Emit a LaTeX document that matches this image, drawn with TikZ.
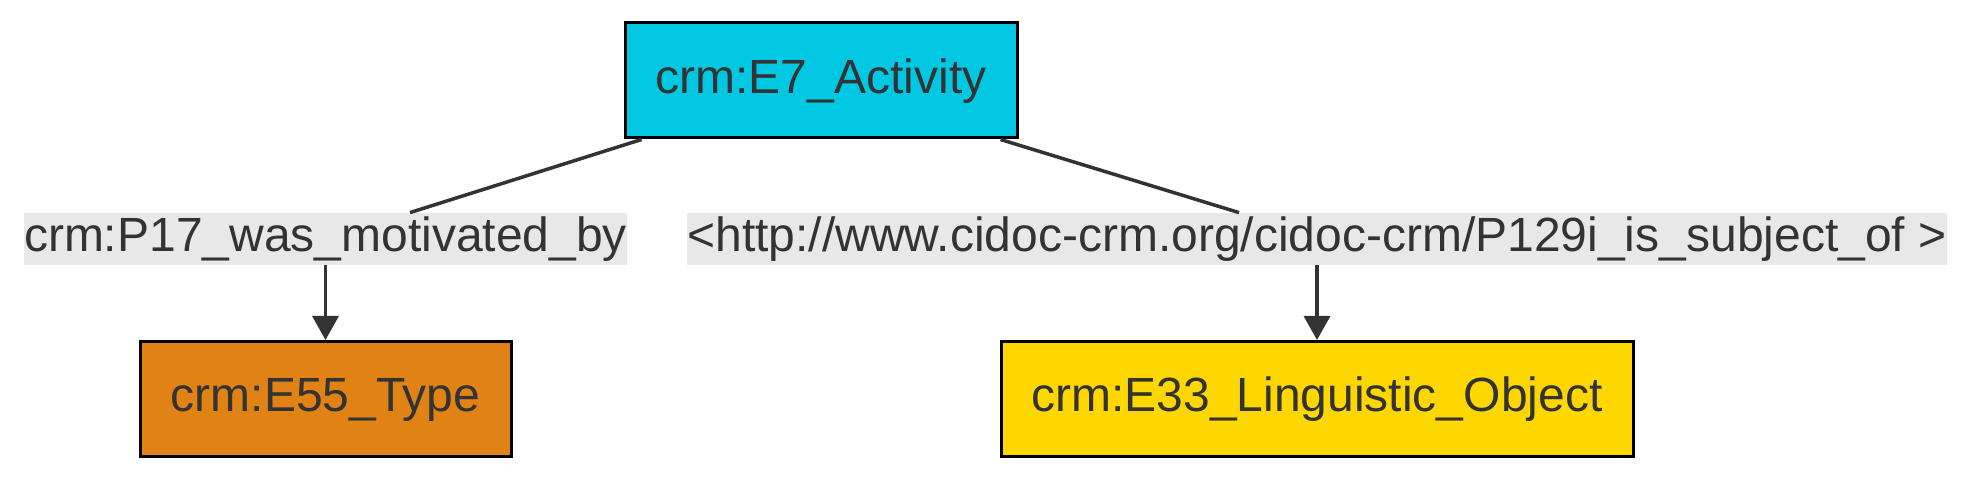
\documentclass[tikz,border=0pt]{standalone}
\usepackage{fontspec}
\setmainfont{Liberation Sans}
\usetikzlibrary{arrows.meta}
\definecolor{txt}{HTML}{333333}
\definecolor{cyanbox}{HTML}{00C8E3}
\definecolor{orangebox}{HTML}{E08214}
\definecolor{yellowbox}{HTML}{FED700}
\definecolor{lblbg}{HTML}{E8E8E8}
\definecolor{edge}{HTML}{333333}
\tikzset{
  cls/.style={draw=black, line width=1.5pt, inner sep=0pt, text=txt,
    font=\fontsize{24pt}{28pt}\selectfont, text height=19.5pt, text depth=6.5pt,
    minimum height=57.5pt},
  lbl/.style={fill=lblbg, inner sep=0pt, text=txt,
    font=\fontsize{24pt}{28pt}\selectfont, text height=19.5pt, text depth=6.5pt},
  conn/.style={draw=edge, line width=1.75pt},
  arr/.style={conn, -{Triangle[length=12pt,width=13pt]}}
}
\begin{document}
\begin{tikzpicture}[x=0.5pt,y=-0.5pt]
\useasboundingbox (0,0) rectangle (1971,480);
\node[cls, fill=cyanbox, minimum width=196pt] (act) at (821,80.5) {crm:E7\_Activity};
\node[lbl] (l1) at (325.5,239) {crm:P17\_was\_motivated\_by};
\node[lbl] (l2) at (1317,239) {<http://www.cidoc-crm.org/cidoc-crm/P129i\_is\_subject\_of >};
\node[cls, fill=orangebox, minimum width=185.5pt] (typ) at (325.5,399) {crm:E55\_Type};
\node[cls, fill=yellowbox, minimum width=316pt] (ling) at (1317,399) {crm:E33\_Linguistic\_Object};
\draw[conn] ([xshift=9pt]act.south west) -- ([xshift=42.25pt]l1.north);
\draw[conn] ([xshift=-9pt]act.south east) -- ([xshift=-39pt]l2.north);
\draw[arr] (l1.south) -- (typ.north);
\draw[arr] (l2.south) -- (ling.north);
\end{tikzpicture}
\end{document}
